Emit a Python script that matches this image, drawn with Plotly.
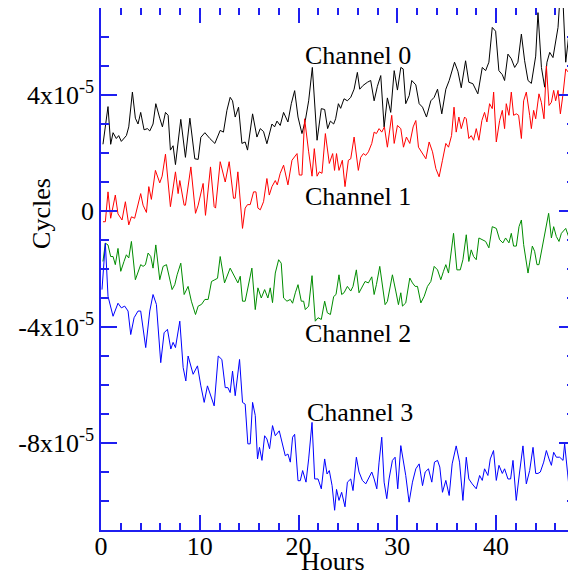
import plotly.graph_objects as go

# values in units of 1e-6 cycles
ch0_hours = [0.2,0.71,0.98,1.22,1.55,1.79,2.06,2.57,2.81,3.18,
 3.48,3.75,4.02,4.36,4.7,4.94,5.27,5.55,5.95,6.22,
 6.53,6.8,7.03,7.3,7.54,8.08,8.55,9.0,9.5,9.84,
 10.11,10.52,11.02,11.53,12.07,12.4,12.75,13.08,13.32,13.59,
 13.93,14.27,14.6,14.84,15.35,15.79,16.13,16.46,16.8,17.31,
 17.58,17.82,18.15,18.49,18.93,19.27,19.61,19.95,20.35,20.69,
 21.03,21.4,21.88,22.31,22.65,22.95,23.23,23.56,23.76,24.04,
 24.27,24.61,24.95,25.29,25.63,25.96,26.2,26.54,26.98,27.31,
 27.66,27.99,28.33,28.67,29.0,29.34,29.69,30.02,30.36,30.6,
 30.86,31.21,31.47,31.88,32.22,32.56,32.96,33.4,33.74,34.08,
 34.51,34.92,35.26,35.8,36.14,36.48,36.92,37.25,37.66,38.16,
 38.61,38.95,39.28,39.62,39.96,40.29,40.64,40.87,41.21,41.55,
 41.89,42.22,42.57,42.9,43.24,43.58,44.02,44.25,44.6,44.93,
 45.16,45.44,45.77,46.12,46.28,46.52,46.79,47.06,47.4,47.74,
 48.07]
ch0_values = [23,36,23,27,25,26,24,26,29,41,
 32,30,34,28,28.4,27.6,30,37,32,29,
 34,33,21,22.5,16,31.6,18.5,32,18,17.8,
 25.4,27,25,23.3,27.8,27.2,34.7,39.2,38,32.4,
 35.8,23.3,23.8,21,33.5,25.5,28.4,27.4,23.2,30,
 29,31,29.5,34,30.7,37,41.5,32.4,26.7,31.2,
 38,49.5,24.4,35.3,35,28.4,31,30,31.8,37,
 35.4,38.7,38,39.2,42,47.8,42,43.3,44.4,45,
 38,43,46.7,29,39,34,48.4,41.7,49.5,49,
 37,39.8,45,43.5,37,35.8,32.4,38,39.2,42,
 33.5,42,45,51.3,48.2,42.5,51.8,44.4,43.9,40.4,
 49.5,48.4,51.3,63.3,62,48.4,47,45,54.1,52.5,
 49.5,51.3,61,51.8,45,44,53.4,68.4,49.5,42.7,
 51.3,54.7,52.9,59.8,63.3,76,72,51.3,61.5,60,
 50.7]

ch1_hours = [0.2,0.44,0.71,0.98,1.45,1.72,2.13,2.47,2.81,3.08,
 3.41,4.02,4.26,4.6,4.84,5.1,5.51,5.95,6.19,6.53,
 7.03,7.54,7.81,7.98,8.42,8.55,9.1,9.57,9.84,10.34,
 10.58,11.09,11.46,11.6,12.07,12.58,12.98,13.42,13.59,13.86,
 14.33,14.6,14.84,15.11,15.45,15.69,15.89,16.13,16.46,16.8,
 17.04,17.31,17.65,17.85,18.15,18.49,18.93,19.34,19.85,20.08,
 20.35,20.62,21.03,21.37,21.6,21.88,22.11,22.38,22.72,23.12,
 23.46,23.65,23.85,24.1,24.44,24.71,25.05,25.29,25.63,26.06,
 26.3,26.57,26.81,27.08,27.42,27.66,27.89,28.16,28.43,28.7,
 29.0,29.44,29.69,30.02,30.36,30.63,30.93,31.27,31.61,31.88,
 32.15,32.56,32.9,33.23,33.57,33.91,34.24,34.58,34.92,35.19,
 35.5,35.75,35.97,36.24,36.48,36.82,36.99,37.25,37.49,37.73,
 38.0,38.27,38.57,38.84,39.08,39.35,39.62,39.76,40.03,40.37,
 40.64,40.87,41.04,41.31,41.55,41.78,42.06,42.29,42.57,42.8,
 43.07,43.41,43.58,43.81,44.02,44.35,44.59,44.86,45.1,45.37,
 45.61,45.84,46.04,46.28,46.52,46.79,47.06,47.29,47.53,47.8,
 48.07]
ch1_values = [-3.7,-3.7,6.6,-2.5,5.5,-1,-3.1,3.2,-4.8,-2,
 -2.5,6,2,-0.5,8.4,4,14,9.7,12,19.6,
 1.5,13.5,6,10.5,2,2,15.2,-0.8,2,9.5,
 -1.5,15.2,1.5,1,17,10,17,4.4,4.4,13.5,
 -6,1,2.2,2.2,6.6,6.6,1,0.4,3.2,11.2,
 5.5,8.4,10.5,9,13,15.8,9,17.5,19.8,12.4,
 12.4,31.8,20.4,12,21.5,12,13.5,13,26.7,16.4,
 19.8,14,19.8,14,17.5,8.4,17.5,18,25.5,14,
 18.5,19.8,19.2,20.4,23.3,27.2,26.7,28.4,27.2,29,
 22,33,23.3,29.5,28.4,22,25.5,23.3,29,31.2,
 22,19.8,18,23.8,20.4,14.6,11.8,17.5,23.3,22,
 26,35.8,27.2,32.4,28.4,32.4,31.8,25,26,24.4,
 28.4,24.4,31.2,34,30.7,37,35.3,41,23.8,31.2,
 34.7,28.4,37,33,41,33,33.5,33,25,38,
 41,33,28.4,34.7,31.8,40.4,37.5,31.8,50,36.4,
 37.5,41.6,38,41.6,33.5,40.4,49,48,49.8,48.6,
 45.8]

ch2_hours = [0.2,0.44,0.71,0.98,1.22,1.45,1.72,2.0,2.33,2.57,
 2.81,3.08,3.48,3.75,4.02,4.26,4.5,4.77,5.04,5.27,
 5.55,5.95,6.29,6.63,6.86,7.2,7.47,7.71,8.08,8.42,
 8.82,9.15,9.57,9.84,10.18,10.52,10.85,11.19,11.53,11.8,
 12.07,12.51,13.08,13.52,13.86,14.1,14.33,14.6,14.94,15.28,
 15.62,15.89,16.23,16.57,16.9,17.14,17.37,17.65,17.99,18.25,
 18.49,18.83,19.17,19.4,19.68,19.95,20.28,20.52,20.69,21.03,
 21.37,21.7,21.98,22.31,22.65,22.92,23.23,23.56,23.8,24.1,
 24.37,24.61,24.95,25.29,25.52,25.86,26.13,26.47,26.74,27.08,
 27.42,27.66,27.89,28.23,28.5,28.77,29.0,29.24,29.51,29.85,
 30.12,30.36,30.53,30.86,31.27,31.54,31.81,32.05,32.39,32.73,
 33.06,33.4,33.74,34.08,34.41,34.68,34.92,35.19,35.43,35.7,
 36.04,36.38,36.65,36.99,37.25,37.49,37.73,38.0,38.27,38.61,
 38.95,39.28,39.62,40.03,40.37,40.7,40.97,41.31,41.55,41.78,
 42.06,42.33,42.57,42.8,43.0,43.24,43.41,43.68,43.91,44.15,
 44.35,44.69,45.03,45.33,45.61,45.84,46.11,46.38,46.62,47.06,
 47.46,47.8,48.07]
ch2_values = [-17.4,-11.1,-11.7,-15.7,-15.7,-18.5,-12.9,-20.8,-17.4,-15.1,
 -16.2,-10.5,-23.7,-20.8,-18.5,-19.1,-18.5,-14.5,-15.7,-19.7,
 -11.7,-23.7,-19.1,-18.5,-22.5,-27.1,-25.4,-22,-18,-28.8,
 -26,-31.1,-35.7,-32.8,-32.2,-30.5,-30.5,-24.3,-23.7,-23.2,
 -15.7,-24.8,-19.7,-22.5,-24.8,-22.5,-31.1,-31.1,-24.8,-19.7,
 -34,-26.5,-30,-27.1,-30,-26.5,-31.6,-21.4,-16.8,-18,
 -30,-31.1,-30.5,-31.8,-28.2,-25.4,-31.1,-31.1,-34,-32.8,
 -22.3,-38,-36.8,-37.4,-31.1,-35.1,-35.7,-29.5,-28.8,-22,
 -28.8,-28.2,-26,-27.6,-26,-20.3,-28.2,-26,-24.3,-24.8,
 -22.7,-28.8,-25.4,-19.1,-26,-32.3,-31.2,-27.2,-22,-27.6,
 -32.3,-28.2,-32.8,-31.7,-23.1,-24.8,-26,-26,-31.7,-29.4,
 -26,-24.3,-19.1,-20.3,-23.7,-20.8,-18.5,-21.4,-15.7,-7.7,
 -20.3,-20.3,-16.8,-8.2,-17.4,-13.4,-15.7,-16.8,-9.3,-9.9,
 -10.5,-12.7,-5.4,-6,-9.9,-11,-9.3,-11,-7.7,-12.1,
 -12.1,-5.4,-3.1,-11.6,-15.6,-21.4,-17.9,-12.1,-13.9,-18.5,
 -18.5,-12.7,-6.3,-0.8,-9.3,-5.4,-8.8,-10.5,-7.7,-6,
 -9.9,-5.4,-3.1]

ch3_hours = [0.1,0.44,0.71,1.22,1.72,2.06,2.4,2.74,3.01,3.35,
 3.75,4.02,4.53,4.94,5.27,5.61,6.05,6.39,6.73,7.07,
 7.3,7.54,7.98,8.32,8.59,8.82,9.33,9.77,10.11,10.45,
 10.78,11.12,11.46,11.87,12.24,12.58,12.85,13.08,13.32,13.59,
 14.03,14.33,14.6,14.87,15.11,15.35,15.62,15.85,16.05,16.3,
 16.57,16.8,17.07,17.37,17.65,18.05,18.32,18.66,18.93,19.17,
 19.4,19.61,19.95,20.18,20.42,20.76,21.03,21.37,21.64,21.98,
 22.31,22.65,22.89,23.12,23.4,23.66,23.85,24.1,24.37,24.71,
 24.95,25.29,25.52,25.86,26.13,26.47,26.81,27.08,27.42,27.66,
 27.93,28.16,28.43,28.67,28.94,29.17,29.51,29.78,30.05,30.36,
 30.6,30.86,31.2,31.54,31.88,32.22,32.56,32.83,33.16,33.5,
 33.77,34.08,34.31,34.58,34.92,35.26,35.56,35.8,35.97,36.31,
 36.65,36.99,37.25,37.59,38.0,38.34,38.61,38.84,39.18,39.42,
 39.75,40.03,40.3,40.64,40.87,41.21,41.48,41.72,42.05,42.39,
 42.73,43.07,43.41,43.75,44.02,44.25,44.49,44.83,45.1,45.37,
 45.61,45.84,46.11,46.45,46.79,46.95,47.29,47.53,47.8,48.07]
ch3_values = [-27.1,-11.1,-29.4,-36.3,-31.8,-33.4,-32.8,-34.5,-42.6,-36.8,
 -34.5,-34.5,-47.1,-34.5,-28.8,-32.2,-52.3,-42,-40.8,-47.6,
 -45.3,-47.1,-38,-54,-58.6,-50,-56.3,-53.4,-60.3,-66,
 -60.3,-63.7,-67.2,-50,-51.2,-60.9,-60.9,-62.6,-55.2,-63.7,
 -51.2,-66,-66.6,-80.3,-80.3,-66,-70.5,-85.5,-81.5,-86,
 -77.5,-78.6,-82,-74,-77.5,-75.8,-79.2,-84.4,-83.8,-86.6,
 -78,-77,-93,-93,-89.5,-93.5,-85.5,-72.9,-92.4,-92.4,
 -95.8,-85.5,-90.7,-89.5,-94.7,-103.2,-96,-99.8,-97,-102,
 -93.5,-92.4,-96.4,-84.9,-90,-92.9,-94.1,-92.4,-90,-92.4,
 -95.8,-86.6,-78,-93.5,-99.2,-92.4,-86,-84.9,-95.8,-80.9,
 -85.5,-91.2,-100.4,-93.5,-88.9,-87.2,-94.7,-90,-88.9,-93.5,
 -86.6,-86,-88.3,-97,-92.9,-98.1,-87.2,-83.2,-81,-86.6,
 -99.8,-84.9,-92.4,-94.1,-95.8,-91.2,-92.9,-88.9,-91.2,-85.5,
 -82.6,-92.9,-87.7,-90.5,-88.9,-92.4,-92.4,-86,-99.8,-90,
 -81,-94.1,-89.5,-81.5,-90.5,-90.5,-90,-86.6,-82.6,-85.5,
 -87.7,-83.2,-84.9,-84.9,-86,-80.3,-92.4,-99.8,-101.5,-95.4]

channel_names = ["Channel 0", "Channel 1", "Channel 2", "Channel 3"]
label_hours = [26.06, 26.06, 26.06, 26.27]
label_values = [53.6, 5.0, -42.2, -69.4]
y_tick_values = [-80, -40, 0, 40]
y_tick_labels = ["-8x10<sup>-5</sup>", "-4x10<sup>-5</sup>", "0", "4x10<sup>-5</sup>"]
x_tick_values = [0, 10, 20, 30, 40]

SCALE = 1e-6
colors = ["#000000", "#ff0000", "#008c00", "#0000ff"]
series = [(ch0_hours, ch0_values), (ch1_hours, ch1_values),
          (ch2_hours, ch2_values), (ch3_hours, ch3_values)]

FONT = "Liberation Serif, Times New Roman, serif"
AX = "#1f1ff0"

fig = go.Figure()
for (hx, hv), c, n in zip(series, colors, channel_names):
    fig.add_trace(go.Scatter(x=hx, y=[v * SCALE for v in hv], mode="lines",
                             line=dict(color=c, width=1), name=n,
                             showlegend=False, hoverinfo="skip"))

for n, hx, hv in zip(channel_names, label_hours, label_values):
    fig.add_annotation(x=hx, y=hv * SCALE, xref="x", yref="y", text=n,
                       xanchor="center", yanchor="middle",
                       showarrow=False, font=dict(family=FONT, size=26, color="black"))

fig.add_annotation(x=0.489, y=-0.061, xref="paper", yref="paper", text="Hours",
                   xanchor="center", yanchor="middle",
                   showarrow=False, font=dict(family=FONT, size=26, color="black"))
fig.add_annotation(x=-0.127, y=0.607, xref="paper", yref="paper", text="Cycles",
                   xanchor="center", yanchor="middle",
                   textangle=-90, showarrow=False,
                   font=dict(family=FONT, size=26, color="black"))

fig.update_xaxes(range=[0, 48], tickvals=x_tick_values, ticks="inside", ticklen=15,
                 tickwidth=1.5, tickcolor=AX, showline=True, linecolor=AX, linewidth=1.5,
                 mirror="allticks", showgrid=False, zeroline=False, automargin=False,
                 tickfont=dict(family=FONT, size=26, color="black"), ticklabelstandoff=-8,
                 minor=dict(dtick=2, tick0=0, ticks="inside", ticklen=7,
                            tickwidth=1.5, tickcolor=AX, showgrid=False))
fig.update_yaxes(range=[-110 * SCALE, 70 * SCALE],
                 tickvals=[v * SCALE for v in y_tick_values], ticktext=y_tick_labels,
                 ticks="inside", ticklen=16, tickwidth=1.5, tickcolor=AX,
                 showline=True, linecolor=AX, linewidth=1.5, mirror="allticks",
                 showgrid=False, zeroline=False, automargin=False,
                 tickfont=dict(family=FONT, size=26, color="black"),
                 minor=dict(dtick=10 * SCALE, tick0=0, ticks="inside", ticklen=8,
                            tickwidth=1.5, tickcolor=AX, showgrid=False))

# the page body adds an 8 px offset, so the figure is sized to fit inside the window
fig.update_layout(width=568, height=566, margin=dict(l=93, r=1, t=0, b=44),
                  plot_bgcolor="white", paper_bgcolor="white", showlegend=False)

fig.write_html("out.html")
